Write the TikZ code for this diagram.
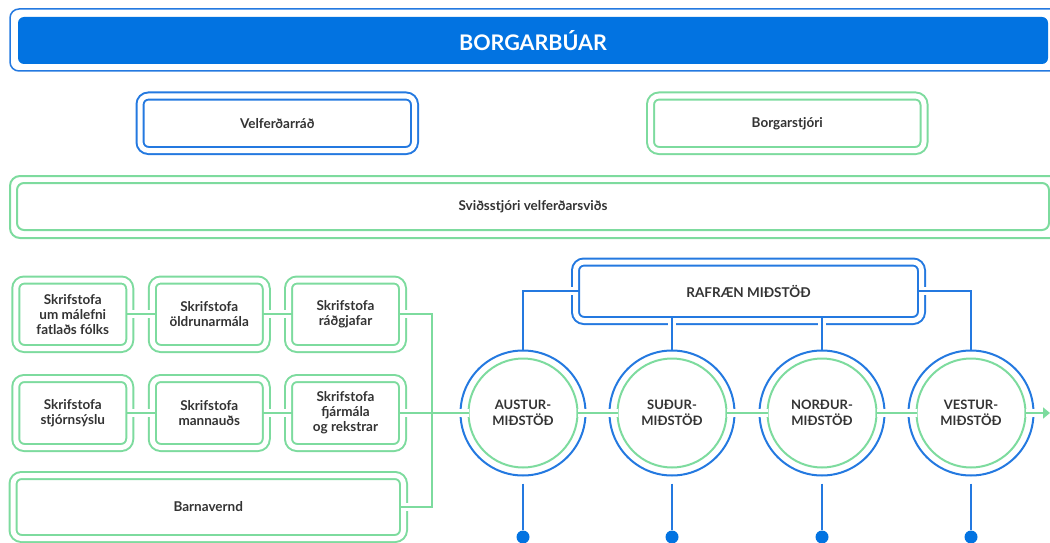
\documentclass[tikz,border=0pt]{standalone}
\usepackage{fontspec}
\setmainfont{Lato}
\usetikzlibrary{arrows.meta}
\definecolor{bfill}{HTML}{0273E1}
\definecolor{bline}{HTML}{2479E0}
\definecolor{gline}{HTML}{7DDB9E}
\definecolor{txt}{HTML}{333333}
\begin{document}
\begin{tikzpicture}[x=1pt,y=-1pt,
  lbl/.style={font=\bfseries\fontsize{13.5}{15}\selectfont, text=txt, align=center},
  sk/.style={font=\bfseries\fontsize{13.5}{15}\selectfont},
  gbox/.style={draw=gline, double=white, double distance=5pt, line width=2pt, rounded corners=8.5pt, inner sep=0pt, outer sep=0pt, lbl},
  bbox/.style={gbox, draw=bline},
  gap/.style={draw=white, line width=8pt},
  gcon/.style={draw=gline, line width=2pt},
  bcon/.style={draw=bline, line width=2pt},
  ring/.style={circle, line width=2pt, inner sep=0pt, outer sep=0pt},
  dot/.style={circle, fill=bfill, minimum size=13pt, inner sep=0pt}
  ]
\useasboundingbox (0,0) rectangle (1050,543);
% top
\draw[bline, line width=1.5pt, rounded corners=9pt] (10,9) rectangle (1075,71);
\node[fill=bfill, rounded corners=6pt, minimum width=1030pt, minimum height=47pt, inner sep=0pt, text=white, font=\bfseries\fontsize{21.5}{24}\selectfont] (top) at (533,40.5) {BORGARBÚAR};
% second row
\node[bbox, minimum width=274.5pt, minimum height=54.5pt] (vel) at (277.25,123.25) {Velferðarráð};
\node[gbox, minimum width=273.5pt, minimum height=54.5pt] (bst) at (787.25,123.25) {Borgarstjóri};
% svid
\draw[gline, line width=2pt, rounded corners=10pt] (10,176) rectangle (1075,238);
\node[draw=gline, line width=2pt, rounded corners=7pt, minimum width=1032pt, minimum height=47pt, inner sep=0pt, lbl] (svid) at (533,206.5) {Sviðsstjóri velferðarsviðs};
% offices
\node[gbox, sk, minimum width=114pt, minimum height=68.5pt] (s1) at (72.75,314.25) {Skrifstofa\\um málefni\\fatlaðs fólks};
\node[gbox, sk, minimum width=114pt, minimum height=68.5pt] (s2) at (209.25,314.25) {Skrifstofa\\öldrunarmála};
\node[gbox, sk, minimum width=114pt, minimum height=68.5pt] (s3) at (345.5,314.25) {Skrifstofa\\ráðgjafar};
\node[gbox, sk, minimum width=114pt, minimum height=69pt] (s4) at (72.75,413) {Skrifstofa\\stjórnsýslu};
\node[gbox, sk, minimum width=114pt, minimum height=69pt] (s5) at (209.25,413) {Skrifstofa\\mannauðs};
\node[gbox, sk, minimum width=114pt, minimum height=69pt] (s6) at (345.5,413) {Skrifstofa\\fjármála\\og rekstrar};
\node[gbox, sk, minimum width=390.5pt, minimum height=63pt] (barn) at (208.25,507) {Barnavernd};
% rafraen
\node[bbox, font=\bfseries\fontsize{13.5}{15}\selectfont, minimum width=346pt, minimum height=58.5pt] (raf) at (748.5,291.25) {RAFRÆN MIÐSTÖÐ};
% circles
\foreach \i/\x/\lab in {1/523/AUSTUR-, 2/672/SUÐUR-, 3/822/NORÐUR-, 4/971/VESTUR-} {
  \node[ring, draw=bline, minimum size=125pt] (c\i) at (\x,413) {};
  \node[ring, draw=gline, minimum size=109pt, lbl, font=\bfseries\fontsize{13}{16}\selectfont] (ci\i) at (\x,413) {\lab\\MIÐSTÖÐ};
  \node[dot] (d\i) at (\x,537) {};
}
\coordinate (vx) at (432,413);
\coordinate (aend) at (1050,413);
% white gaps
\draw[gap] (s1.east) -- (s2.west);
\draw[gap] (s2.east) -- (s3.west);
\draw[gap] (s4.east) -- (s5.west);
\draw[gap] (s5.east) -- (s6.west);
\draw[gap] (s3.east) -- ++(8,0);
\draw[gap] (barn.east) -- ++(8,0);
\draw[gap] (s6.east) -- (ci1.west);
\draw[gap] (ci1.east) -- (ci2.west);
\draw[gap] (ci2.east) -- (ci3.west);
\draw[gap] (ci3.east) -- (ci4.west);
\draw[gap] (ci4.east) -- (aend);
\draw[gap] (raf.west) -- ++(-8,0);
\draw[gap] (raf.east) -- ++(8,0);
\draw[gap] (raf.south -| c2.north) -- ++(0,8);
\draw[gap] (raf.south -| c3.north) -- ++(0,8);
% green connectors
\draw[gcon, shorten <=-3.5pt, shorten >=-3.5pt] (s1.east) -- (s2.west);
\draw[gcon, shorten <=-3.5pt, shorten >=-3.5pt] (s2.east) -- (s3.west);
\draw[gcon, shorten <=-3.5pt, shorten >=-3.5pt] (s4.east) -- (s5.west);
\draw[gcon, shorten <=-3.5pt, shorten >=-3.5pt] (s5.east) -- (s6.west);
\draw[gcon, shorten <=-3.5pt, shorten >=-3.5pt] (s3.east) -| (vx |- barn.east) -- (barn.east);
\draw[gcon, shorten <=-3.5pt] (s6.east) -- (ci1.west);
\draw[gcon] (ci1.east) -- (ci2.west);
\draw[gcon] (ci2.east) -- (ci3.west);
\draw[gcon] (ci3.east) -- (ci4.west);
\draw[gcon, -{Triangle[length=7pt,width=11pt]}] (ci4.east) -- (aend);
% blue connectors
\draw[bcon, shorten <=-3.5pt] (raf.west) -| (c1.north);
\draw[bcon, shorten <=-3.5pt] (raf.east) -| (c4.north);
\draw[bcon, shorten <=-3.5pt] (raf.south -| c2.north) -- (c2.north);
\draw[bcon, shorten <=-3.5pt] (raf.south -| c3.north) -- (c3.north);
\foreach \i in {1,2,3,4} {
  \draw[bcon] ([yshift=-8pt]c\i.south) -- (d\i);
}
\end{tikzpicture}
\end{document}
